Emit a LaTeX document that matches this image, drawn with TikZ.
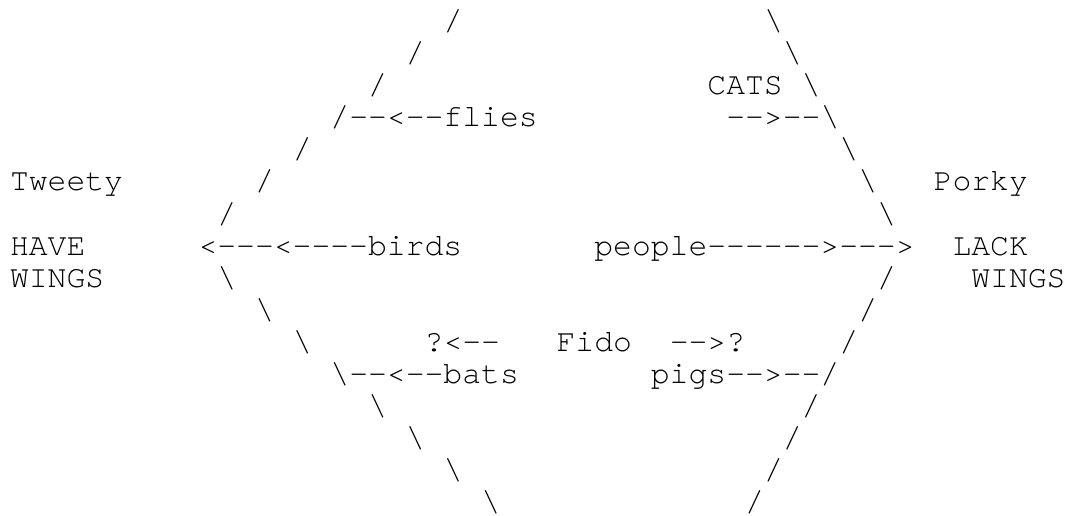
\documentclass[tikz,border=0pt]{standalone}
\usepackage{fontspec}
\setmonofont{texgyrecursor}[Extension=.otf, UprightFont=*-regular, Ligatures=NoCommon]
\newcommand{\bs}{\textbackslash}

\begin{document}
\begin{tikzpicture}[
  x=18.85pt, y=-32pt,
  chars/.style={anchor=base west, inner sep=0pt, outer sep=0pt,
                font=\ttfamily\fontsize{31.4pt}{32pt}\selectfont, text=black},
]

% Page frame
\useasboundingbox (-10pt,31pt) rectangle (1058pt,-485pt);

% ============ Left edge (have wings) ============
\node[chars] (lu0) at (23,0) {/};
\node[chars] (lu1) at (21,1) {/};
\node[chars] (lu2) at (19,2) {/};
\node[chars] (flies) at (17,3) {/--<--flies};
\node[chars] (lu4) at (15,4) {/};
\node[chars] (lu5) at (13,5) {/};
\node[chars] (lu6) at (11,6) {/};
\node[chars] (birds) at (10,7) {<---<----birds};
\node[chars] (ll8) at (11,8) {\bs};
\node[chars] (ll9) at (13,9) {\bs};
\node[chars] (ll10) at (15,10) {\bs};
\node[chars] (bats) at (17,11) {\bs--<--bats};
\node[chars] (ll12) at (19,12) {\bs};
\node[chars] (ll13) at (21,13) {\bs};
\node[chars] (ll14) at (23,14) {\bs};
\node[chars] (ll15) at (25,15) {\bs};

% ============ Right edge (lack wings) ============
\node[chars] (ru0) at (40,0) {\bs};
\node[chars] (ru1) at (41,1) {\bs};
\node[chars] (ru2) at (42,2) {\bs};
\node[chars] (cats) at (37,2) {CATS};
\node[chars] (catsin) at (38,3) {-->--\bs};
\node[chars] (ru4) at (44,4) {\bs};
\node[chars] (ru5) at (45,5) {\bs};
\node[chars] (ru6) at (46,6) {\bs};
\node[chars] (people) at (31,7) {people------>--->};
\node[chars] (rl8) at (46,8) {/};
\node[chars] (rl9) at (45,9) {/};
\node[chars] (rl10) at (44,10) {/};
\node[chars] (pigs) at (34,11) {pigs-->--/};
\node[chars] (rl12) at (42,12) {/};
\node[chars] (rl13) at (41,13) {/};
\node[chars] (rl14) at (40,14) {/};
\node[chars] (rl15) at (39,15) {/};

% Fido in the middle
\node[chars] (fidoleft) at (22,10) {?<--};
\node[chars] (fido) at (29,10) {Fido};
\node[chars] (fidoright) at (35,10) {-->?};

% Side labels
\node[chars] (tweety) at (0,5) {Tweety};
\node[chars] (have) at (0,7) {HAVE};
\node[chars] (wings) at (0,8) {WINGS};
\node[chars] (porky) at (49,5) {Porky};
\node[chars] (lack) at (50,7) {LACK};
\node[chars] (lwings) at (51,8) {WINGS};

\end{tikzpicture}
\end{document}
